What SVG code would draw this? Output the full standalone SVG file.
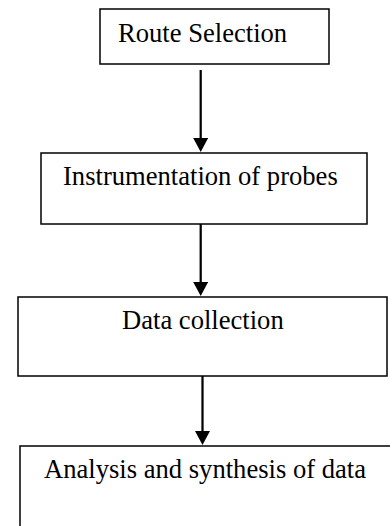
<svg xmlns="http://www.w3.org/2000/svg" width="390" height="526" viewBox="0 0 390 526">
  <style>
    .box { fill: #ffffff; stroke: #000000; stroke-width: 1.5; }
    .label { font-family: "Liberation Serif", "Times New Roman", serif; font-size: 26.6px; fill: #000000; }
    .conn { stroke: #000000; stroke-width: 2.25; fill: none; }
  </style>
  <defs>
    <marker id="arrow" viewBox="0 0 14 15" refX="0" refY="7.5" markerWidth="14" markerHeight="15" markerUnits="userSpaceOnUse" orient="auto">
      <path d="M0,0 L14,7.5 L0,15 Z" fill="#000000"/>
    </marker>
  </defs>
  <rect width="390" height="526" fill="#ffffff"/>

  <g id="connectors">
    <line class="conn" x1="200.7" y1="70" x2="200.7" y2="138" marker-end="url(#arrow)"/>
    <line class="conn" x1="200.7" y1="224" x2="200.7" y2="282" marker-end="url(#arrow)"/>
    <line class="conn" x1="202.5" y1="376" x2="202.5" y2="431" marker-end="url(#arrow)"/>
  </g>

  <g id="node-route-selection">
    <rect class="box" x="100" y="9" width="229" height="55"/>
    <text class="label" x="118" y="42">Route Selection</text>
  </g>

  <g id="node-instrumentation">
    <rect class="box" x="41" y="153" width="326" height="71"/>
    <text class="label" x="63" y="185">Instrumentation of probes</text>
  </g>

  <g id="node-data-collection">
    <rect class="box" x="18" y="297" width="369" height="79"/>
    <text class="label" x="122" y="329">Data collection</text>
  </g>

  <g id="node-analysis">
    <rect class="box" x="20" y="446" width="380" height="100"/>
    <text class="label" x="44" y="477.5">Analysis and synthesis of data</text>
  </g>
</svg>
